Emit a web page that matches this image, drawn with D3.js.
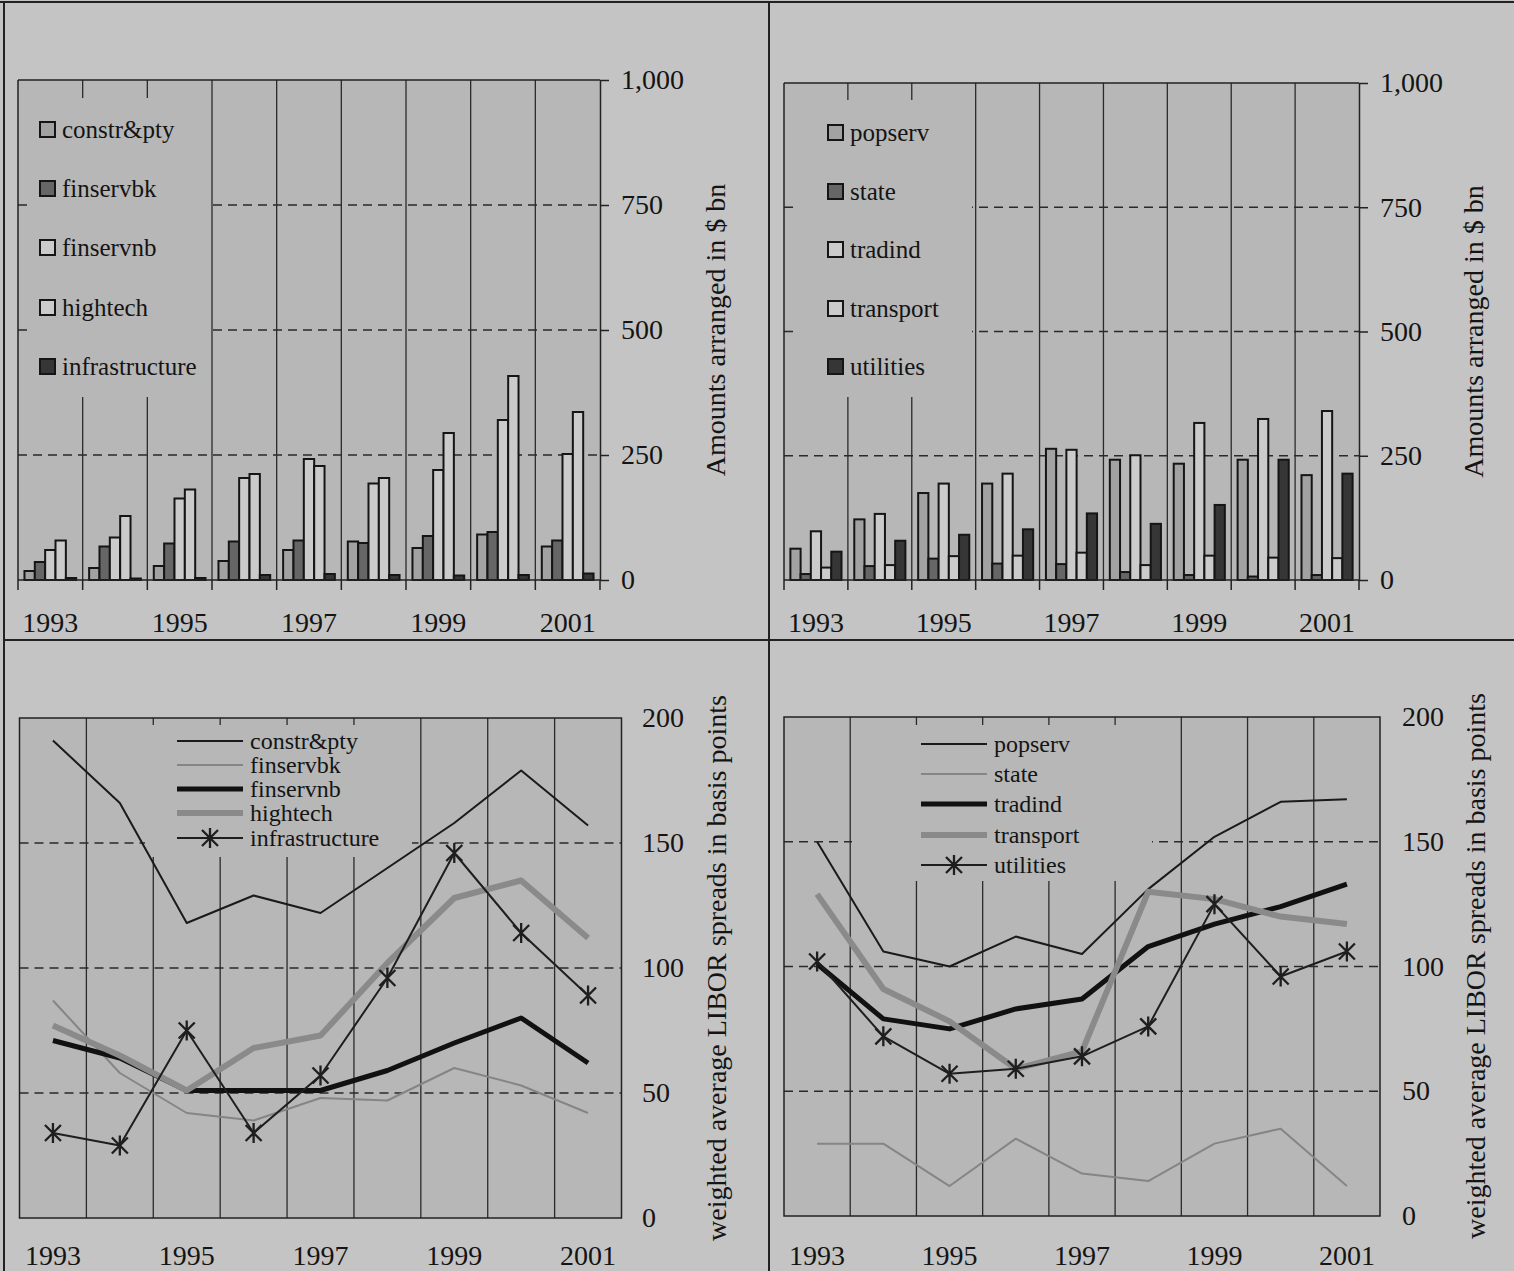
<!DOCTYPE html>
<html>
<head>
<meta charset="utf-8">
<script src="https://cdn.jsdelivr.net/npm/d3@7"></script>
<style>
  html, body { margin: 0; padding: 0; background: #c4c4c4; }
  svg { display: block; }
  text { font-family: "Liberation Serif", "Times New Roman", serif; fill: #141414; }
</style>
</head>
<body>
<svg id="chart" width="1514" height="1271"></svg>
<script>
// ---- data ----
const years = [1993, 1994, 1995, 1996, 1997, 1998, 1999, 2000, 2001];
const yearLabels = [1993, 1995, 1997, 1999, 2001];
const amountTicks = [0, 250, 500, 750, 1000];
const spreadTicks = [0, 50, 100, 150, 200];

const sectorsA = ["constr&pty", "finservbk", "finservnb", "hightech", "infrastructure"];
const sectorsB = ["popserv", "state", "tradind", "transport", "utilities"];

// amounts arranged, $ bn
const amtConstr    = [18, 24, 28, 38, 60, 77, 64, 91, 67];
const amtFinservbk = [36, 67, 73, 77, 79, 74, 88, 96, 79];
const amtFinservnb = [60, 85, 163, 204, 242, 193, 220, 320, 252];
const amtHightech  = [79, 128, 181, 212, 228, 204, 294, 408, 336];
const amtInfra     = [4, 3, 4, 10, 12, 10, 9, 10, 13];

const amtPopserv   = [63, 122, 175, 194, 264, 242, 234, 242, 211];
const amtState     = [12, 28, 43, 33, 32, 16, 10, 7, 10];
const amtTradind   = [98, 133, 194, 214, 262, 251, 316, 324, 340];
const amtTransport = [25, 30, 48, 49, 55, 30, 49, 45, 44];
const amtUtilities = [57, 79, 91, 102, 134, 113, 151, 242, 214];

// weighted average LIBOR spreads, basis points
const sprConstr    = [191, 166, 118, 129, 122, 140, 158, 179, 157];
const sprFinservbk = [87, 58, 42, 39, 48, 47, 60, 53, 42];
const sprFinservnb = [71, 64, 51, 51, 51, 59, 70, 80, 62];
const sprHightech  = [77, 65, 51, 68, 73, 102, 128, 135, 112];
const sprInfra     = [34, 29, 75, 34, 57, 96, 146, 114, 89];

const sprPopserv   = [150, 106, 100, 112, 105, 131, 152, 166, 167];
const sprState     = [29, 29, 12, 31, 17, 14, 29, 35, 12];
const sprTradind   = [101, 79, 75, 83, 87, 108, 117, 124, 133];
const sprTransport = [129, 91, 78, 59, 66, 130, 127, 120, 117];
const sprUtilities = [102, 72, 57, 59, 64, 76, 125, 96, 106];

// ---- styling ----
const PAGE_BG = "#c4c4c4";
const PLOT_BG = "#b7b7b7";
const INK = "#141414";
const barFills = ["#a2a2a2", "#666666", "#cbcbcb", "#cbcbcb", "#363636"];
const lineStyles = [
  { color: "#1a1a1a", width: 2, marker: false },
  { color: "#858585", width: 2, marker: false },
  { color: "#111111", width: 5, marker: false },
  { color: "#8a8a8a", width: 6, marker: false },
  { color: "#1e1e1e", width: 2, marker: true }
];

const svg = d3.select("#chart");
svg.append("rect").attr("width", 1514).attr("height", 1271).attr("fill", PAGE_BG);

// frame rules dividing the four charts
const frame = svg.append("g").attr("stroke", "#222").attr("stroke-width", 2);
frame.append("line").attr("x1", 0).attr("x2", 1514).attr("y1", 2).attr("y2", 2);
frame.append("line").attr("x1", 4).attr("x2", 4).attr("y1", 2).attr("y2", 1271);
frame.append("line").attr("x1", 769).attr("x2", 769).attr("y1", 2).attr("y2", 1271);
frame.append("line").attr("x1", 4).attr("x2", 1514).attr("y1", 640).attr("y2", 640);

function asteriskPath(r) {
  const a = r * 0.8;
  return `M0,${-r}L0,${r}M${-a},${-a}L${a},${a}M${-a},${a}L${a},${-a}`;
}

// ---- grouped bar chart ----
function barChart(opt) {
  const g = svg.append("g");
  const x = d3.scaleBand().domain(years).range([opt.x0, opt.x1]).paddingInner(0).paddingOuter(0);
  const y = d3.scaleLinear().domain([0, 1000]).range([opt.yBottom, opt.yTop]);
  const inner = d3.scaleBand().domain(d3.range(opt.series.length))
    .range([0, x.bandwidth() * 0.8]);
  const innerOffset = x.bandwidth() * 0.1;

  g.append("rect").attr("x", opt.x0).attr("y", opt.yTop)
    .attr("width", opt.x1 - opt.x0).attr("height", opt.yBottom - opt.yTop)
    .attr("fill", PLOT_BG);

  // dashed horizontal gridlines
  g.selectAll("line.hgrid").data(amountTicks.filter(d => d > 0 && d < 1000)).join("line")
    .attr("x1", opt.x0).attr("x2", opt.x1)
    .attr("y1", d => y(d)).attr("y2", d => y(d))
    .attr("stroke", "#2a2a2a").attr("stroke-width", 1.3).attr("stroke-dasharray", "9,6");

  // vertical year separators
  const bounds = years.slice(1).map(d => x(d));
  g.selectAll("line.vgrid").data(bounds).join("line")
    .attr("x1", d => d).attr("x2", d => d)
    .attr("y1", opt.yTop).attr("y2", opt.yBottom)
    .attr("stroke", "#2a2a2a").attr("stroke-width", 1.3);

  // legend background hides the grid behind it
  g.append("rect").attr("x", opt.legendBox[0]).attr("y", opt.legendBox[1])
    .attr("width", opt.legendBox[2]).attr("height", opt.legendBox[3]).attr("fill", PLOT_BG);

  // bars
  opt.series.forEach((vals, si) => {
    g.selectAll(null).data(vals).join("rect")
      .attr("x", (d, i) => x(years[i]) + innerOffset + inner(si))
      .attr("y", d => y(d))
      .attr("width", inner.bandwidth())
      .attr("height", d => y(0) - y(d))
      .attr("fill", barFills[si])
      .attr("stroke", "#151515").attr("stroke-width", 2);
  });

  // plot frame: top and left
  g.append("line").attr("x1", opt.x0).attr("x2", opt.x1).attr("y1", opt.yTop).attr("y2", opt.yTop)
    .attr("stroke", "#222").attr("stroke-width", 1.5);
  g.append("line").attr("x1", opt.x0).attr("x2", opt.x0).attr("y1", opt.yTop).attr("y2", opt.yBottom)
    .attr("stroke", "#222").attr("stroke-width", 1.5);

  // right value axis
  const ya = g.append("g").attr("transform", `translate(${opt.x1},0)`)
    .call(d3.axisRight(y).tickValues(amountTicks).tickFormat(d3.format(","))
      .tickSize(9).tickSizeOuter(0).tickPadding(12));
  ya.select(".domain").attr("stroke", "#222").attr("stroke-width", 1.5);
  ya.selectAll(".tick line").attr("stroke", "#222").attr("stroke-width", 1.5);
  ya.selectAll(".tick text").attr("font-size", 28).attr("fill", INK)
    .attr("font-family", "Liberation Serif");

  // bottom axis: baseline, separator ticks, odd-year labels
  g.append("line").attr("x1", opt.x0).attr("x2", opt.x1).attr("y1", y(0)).attr("y2", y(0))
    .attr("stroke", "#222").attr("stroke-width", 1.5);
  g.selectAll("line.xtick").data([opt.x0, ...bounds, opt.x1]).join("line")
    .attr("x1", d => d).attr("x2", d => d).attr("y1", y(0)).attr("y2", y(0) + 10)
    .attr("stroke", "#222").attr("stroke-width", 1.5);
  g.selectAll("text.year").data(yearLabels).join("text")
    .attr("x", d => x(d) + x.bandwidth() / 2).attr("y", opt.labelY)
    .attr("text-anchor", "middle").attr("font-size", 28).text(d => d);

  // axis title
  g.append("text")
    .attr("transform", `translate(${opt.titleX},${(opt.yTop + opt.yBottom) / 2}) rotate(-90)`)
    .attr("text-anchor", "middle").attr("dominant-baseline", "central")
    .attr("font-size", 28).text("Amounts arranged in $ bn");

  // legend
  opt.names.forEach((name, i) => {
    const cy = opt.legendRows[i];
    g.append("rect").attr("x", opt.legendX).attr("y", cy - 8).attr("width", 15).attr("height", 15)
      .attr("fill", barFills[i]).attr("stroke", "#151515").attr("stroke-width", 2);
    g.append("text").attr("x", opt.legendX + 22).attr("y", cy).attr("dy", "0.33em")
      .attr("font-size", 25).text(name);
  });
}

// ---- line chart ----
function lineChart(opt) {
  const g = svg.append("g");
  const x = d3.scaleBand().domain(years).range([opt.x0, opt.x1]).paddingInner(0).paddingOuter(0);
  const cx = d => x(d) + x.bandwidth() / 2;
  const y = d3.scaleLinear().domain([0, 200]).range([opt.yBottom, opt.yTop]);

  g.append("rect").attr("x", opt.x0).attr("y", opt.yTop)
    .attr("width", opt.x1 - opt.x0).attr("height", opt.yBottom - opt.yTop)
    .attr("fill", PLOT_BG);

  g.selectAll("line.hgrid").data(spreadTicks.filter(d => d > 0 && d < 200)).join("line")
    .attr("x1", opt.x0).attr("x2", opt.x1)
    .attr("y1", d => y(d)).attr("y2", d => y(d))
    .attr("stroke", "#2a2a2a").attr("stroke-width", 1.3).attr("stroke-dasharray", "9,6");

  const bounds = years.slice(1).map(d => x(d));
  g.selectAll("line.vgrid").data(bounds).join("line")
    .attr("x1", d => d).attr("x2", d => d)
    .attr("y1", opt.yTop).attr("y2", opt.yBottom)
    .attr("stroke", "#2a2a2a").attr("stroke-width", 1.3);

  g.append("rect").attr("x", opt.legendBox[0]).attr("y", opt.legendBox[1])
    .attr("width", opt.legendBox[2]).attr("height", opt.legendBox[3]).attr("fill", PLOT_BG);

  g.append("rect").attr("x", opt.x0).attr("y", opt.yTop)
    .attr("width", opt.x1 - opt.x0).attr("height", opt.yBottom - opt.yTop)
    .attr("fill", "none").attr("stroke", "#222").attr("stroke-width", 1.5);

  const line = d3.line().x((d, i) => cx(years[i])).y(d => y(d));
  opt.series.forEach((vals, si) => {
    const st = lineStyles[si];
    g.append("path").datum(vals).attr("d", line)
      .attr("fill", "none").attr("stroke", st.color).attr("stroke-width", st.width)
      .attr("stroke-linejoin", "round");
    if (st.marker) {
      g.selectAll(null).data(vals).join("path")
        .attr("transform", (d, i) => `translate(${cx(years[i])},${y(d)})`)
        .attr("d", asteriskPath(10))
        .attr("stroke", st.color).attr("stroke-width", 2.3).attr("fill", "none");
    }
  });

  // right labels (no tick marks)
  g.selectAll("text.ytick").data(spreadTicks).join("text")
    .attr("x", opt.tickLabelX).attr("y", d => y(d)).attr("dy", "0.33em")
    .attr("font-size", 28).text(d => d);

  g.selectAll("text.year").data(yearLabels).join("text")
    .attr("x", d => cx(d)).attr("y", opt.labelY)
    .attr("text-anchor", "middle").attr("font-size", 28).text(d => d);

  g.append("text")
    .attr("transform", `translate(${opt.titleX},${opt.titleY}) rotate(-90)`)
    .attr("text-anchor", "middle").attr("dominant-baseline", "central")
    .attr("font-size", 28).text("weighted average LIBOR spreads in basis points");

  opt.names.forEach((name, i) => {
    const ly = opt.legendRows[i];
    const st = lineStyles[i];
    g.append("line").attr("x1", opt.legendX).attr("x2", opt.legendX + 66)
      .attr("y1", ly).attr("y2", ly)
      .attr("stroke", st.color).attr("stroke-width", st.width);
    if (st.marker) {
      g.append("path").attr("transform", `translate(${opt.legendX + 33},${ly})`)
        .attr("d", asteriskPath(10)).attr("stroke", st.color).attr("stroke-width", 2.3).attr("fill", "none");
    }
    g.append("text").attr("x", opt.legendX + 73).attr("y", ly).attr("dy", "0.33em")
      .attr("font-size", 24).text(name);
  });
}

barChart({
  x0: 18, x1: 600, yTop: 80, yBottom: 580, labelY: 632, titleX: 715,
  series: [amtConstr, amtFinservbk, amtFinservnb, amtHightech, amtInfra],
  names: sectorsA,
  legendBox: [27, 98, 184, 299],
  legendX: 40, legendRows: [130, 189, 248, 308, 367]
});

barChart({
  x0: 784, x1: 1359, yTop: 83, yBottom: 580, labelY: 632, titleX: 1473,
  series: [amtPopserv, amtState, amtTradind, amtTransport, amtUtilities],
  names: sectorsB,
  legendBox: [795, 100, 177, 297],
  legendX: 828, legendRows: [133, 192, 250, 309, 367]
});

lineChart({
  x0: 19.5, x1: 621.5, yTop: 718, yBottom: 1218, labelY: 1265,
  tickLabelX: 642, titleX: 716, titleY: 968,
  series: [sprConstr, sprFinservbk, sprFinservnb, sprHightech, sprInfra],
  names: sectorsA,
  legendBox: [145, 725, 267, 132],
  legendX: 177, legendRows: [741, 765, 789, 813, 838]
});

lineChart({
  x0: 784, x1: 1380, yTop: 717, yBottom: 1216, labelY: 1265,
  tickLabelX: 1402, titleX: 1475, titleY: 966,
  series: [sprPopserv, sprState, sprTradind, sprTransport, sprUtilities],
  names: sectorsB,
  legendBox: [852, 725, 300, 156],
  legendX: 921, legendRows: [744, 774, 804, 835, 865]
});
</script>
</body>
</html>
